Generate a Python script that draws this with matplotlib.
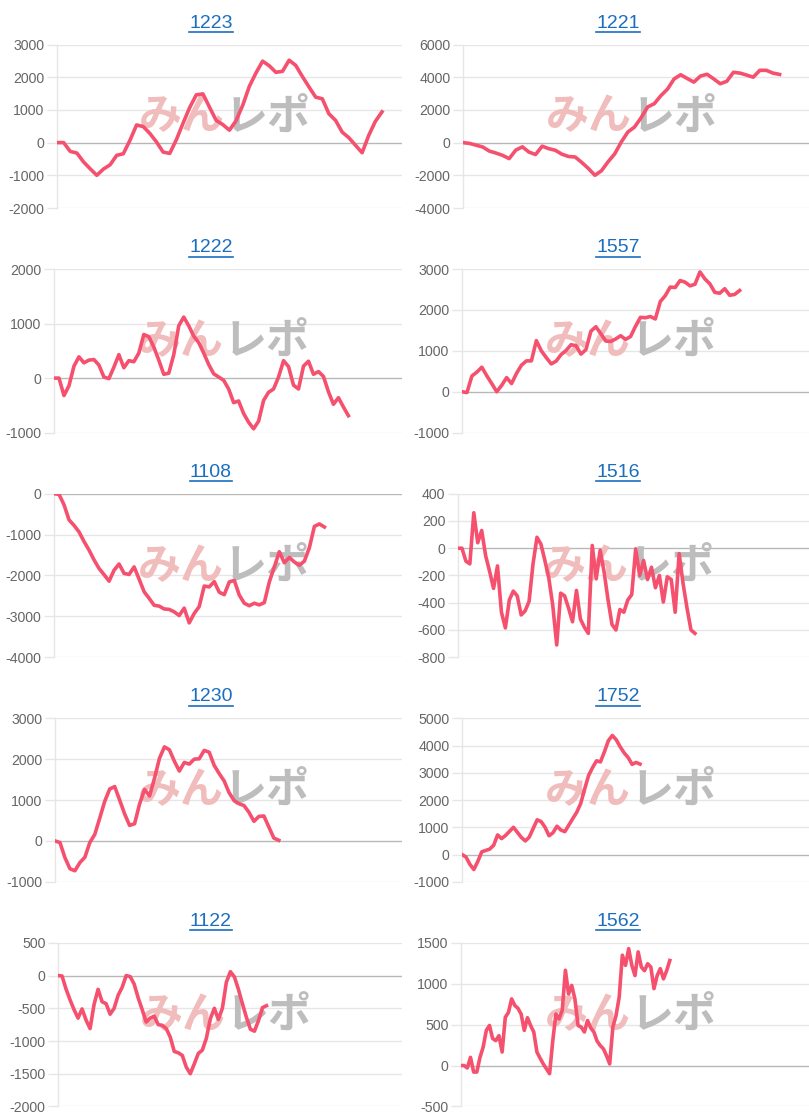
import matplotlib
matplotlib.use("Agg")
import matplotlib.pyplot as plt
from matplotlib.lines import Line2D

# ---- data ----
titles = ["1223", "1221", "1222", "1557", "1108", "1516", "1230", "1752", "1122", "1562"]

s1223 = [0, 0, -270, -320, -590, -800, -1000, -810, -680, -390, -340, 70, 540, 490, 280, 20,
         -290, -330, 90, 590, 1070, 1460, 1490, 1080, 680, 550, 380, 670, 1140, 1720, 2130,
         2490, 2350, 2150, 2180, 2520, 2360, 2020, 1700, 1390, 1340, 880, 680, 320, 150, -80,
         -310, 220, 650, 940]
s1221 = [0, -50, -160, -270, -520, -640, -780, -980, -460, -260, -580, -730, -220, -370, -470,
         -710, -850, -880, -1210, -1580, -2000, -1720, -1170, -690, 40, 650, 950, 1520, 2180,
         2380, 2870, 3270, 3890, 4150, 3920, 3700, 4070, 4180, 3900, 3600, 3750, 4300, 4250,
         4130, 4000, 4420, 4420, 4250, 4170]
s1222 = [0, 0, -320, -140, 220, 390, 280, 330, 340, 240, 20, -10, 200, 430, 190, 320, 300, 460,
         800, 760, 570, 330, 70, 90, 430, 960, 1120, 960, 770, 650, 460, 250, 80, 20, -40, -200,
         -450, -420, -650, -810, -930, -790, -410, -260, -200, 20, 320, 210, -130, -200, 220,
         310, 70, 120, 30, -250, -480, -360, -530, -690]
s1557 = [0, -20, 385, 480, 600, 390, 200, 0, 155, 345, 200, 450, 650, 755, 755, 1250, 1000, 835,
         680, 750, 910, 1010, 1150, 1125, 920, 1030, 1480, 1590, 1420, 1240, 1230, 1290, 1370,
         1280, 1350, 1600, 1820, 1810, 1840, 1780, 2205, 2350, 2560, 2550, 2720, 2680, 2590,
         2630, 2930, 2760, 2640, 2430, 2410, 2520, 2360, 2380, 2475]
s1108 = [0, -15, -270, -640, -775, -935, -1170, -1380, -1620, -1830, -1980, -2140, -1870, -1720,
         -1950, -1975, -1790, -2090, -2400, -2560, -2730, -2750, -2820, -2830, -2890, -2980,
         -2800, -3160, -2930, -2760, -2260, -2280, -2150, -2410, -2470, -2160, -2120, -2480,
         -2680, -2740, -2680, -2720, -2665, -2160, -1790, -1420, -1690, -1560, -1670, -1750,
         -1650, -1320, -800, -740, -815]
s1516 = [0, 0, -95, -115, 260, 40, 130, -55, -170, -295, -130, -470, -585, -380, -315, -350,
         -490, -460, -390, -115, 80, 30, -90, -220, -420, -710, -330, -350, -440, -540, -310,
         -520, -580, -625, 20, -225, -15, -175, -380, -560, -600, -450, -470, -380, -340, -5,
         -200, -90, -230, -140, -290, -200, -395, -210, -230, -470, -40, -260, -440, -600, -625]
s1230 = [0, -40, -410, -680, -730, -530, -400, -40, 160, 560, 970, 1270, 1330, 1000, 660, 380,
         420, 900, 1260, 1100, 1530, 2020, 2300, 2230, 1950, 1710, 1920, 1880, 2000, 2010, 2215,
         2170, 1850, 1650, 1470, 1180, 990, 910, 865, 700, 480, 600, 610, 340, 70, 15]
s1752 = [0, -90, -360, -550, -250, 100, 150, 200, 340, 720, 585, 700, 850, 1000, 815, 630, 500,
         640, 960, 1275, 1210, 1000, 690, 800, 1040, 900, 840, 1080, 1320, 1550, 1870, 2400,
         2900, 3190, 3440, 3400, 3770, 4180, 4370, 4210, 3950, 3730, 3560, 3310, 3380, 3320]
s1122 = [0, -5, -205, -370, -520, -650, -510, -680, -810, -440, -210, -400, -430, -590, -500,
         -300, -180, 0, -15, -130, -340, -520, -710, -650, -620, -750, -760, -810, -940, -1160,
         -1180, -1220, -1400, -1500, -1350, -1190, -1140, -960, -660, -500, -670, -500, -100,
         60, -20, -210, -430, -640, -820, -850, -690, -490, -460]
s1562 = [0, 0, -30, 100, -80, -80, 100, 225, 430, 490, 330, 305, 365, 165, 590, 650, 815, 735,
         700, 630, 430, 585, 490, 410, 165, 90, 20, -40, -100, 300, 630, 570, 675, 1165, 875,
         980, 815, 490, 470, 410, 550, 460, 410, 300, 245, 205, 120, 20, 470, 610, 835, 1350,
         1225, 1430, 1225, 1100, 1390, 1205, 1160, 1245, 1205, 940, 1100, 1185, 1060, 1160, 1285]

series = [s1223, s1221, s1222, s1557, s1108, s1516, s1230, s1752, s1122, s1562]

# y axis ranges (min, max, step)
y_ticks = [(-2000, 3000, 1000), (-4000, 6000, 2000), (-1000, 2000, 1000), (-1000, 3000, 1000),
           (-4000, 0, 1000), (-800, 400, 200), (-1000, 3000, 1000), (-1000, 5000, 1000),
           (-2000, 500, 500), (-500, 1500, 500)]

# ---- layout (pixels) ----
W, H = 809, 1120
left_px = [57, 463, 54, 462, 54, 458, 55, 462, 58, 461]
end_frac = [0.942, 0.915, 0.846, 0.80, 0.777, 0.675, 0.645, 0.513, 0.606, 0.60]
title_x = [211, 618]

LINE = "#f5506e"
GRID = "#e6e6e6"
TICK = "#666666"

fig = plt.figure(figsize=(W / 100, H / 100), dpi=100)
fig.patch.set_facecolor("white")

title_texts = []
for i, (name, data, yt) in enumerate(zip(titles, series, y_ticks)):
    row, col = i // 2, i % 2
    top = 44.5 + 224.6 * row
    height = 163.5
    right = 402 if col == 0 else 809
    lx = left_px[i]
    ax = fig.add_axes([lx / W, 1 - (top + height) / H, (right - lx) / W, height / H])

    n = len(data)
    ax.plot(range(n), data, color=LINE, lw=2.6, solid_joinstyle="round", zorder=3)
    ax.set_xlim(0, (n - 1) / end_frac[i])
    lo, hi, st = yt
    ax.set_ylim(lo, hi)
    ticks = list(range(lo, hi + 1, st))
    ax.set_yticks(ticks)
    ax.set_yticklabels([str(t) for t in ticks], fontsize=10.2, color=TICK,
                       family="Liberation Sans")
    ax.set_xticks([])
    for t in ticks:
        ax.axhline(t, color="#b8b8b8" if t == 0 else GRID, lw=1, zorder=1)
    ax.tick_params(axis="y", length=7, color=GRID, pad=2.0, width=1)
    for s in ["top", "right", "bottom"]:
        ax.spines[s].set_visible(False)
    ax.spines["left"].set_color(GRID)
    ax.spines["left"].set_linewidth(1)

    # watermark
    ax.text(0.487, 0.56, "みん", transform=ax.transAxes, ha="right", va="center",
            fontsize=31, fontweight="bold", color="#f0bcbc", family="Noto Sans CJK JP",
            zorder=2)
    ax.text(0.487, 0.56, "レポ", transform=ax.transAxes, ha="left", va="center",
            fontsize=31, fontweight="bold", color="#bdbdbd", family="Noto Sans CJK JP",
            zorder=2)

    ty = 23 + 224.6 * row
    tt = fig.text(title_x[col] / W, 1 - ty / H, name, ha="center", va="center",
                  fontsize=14, color="#1a6ec0", family="Liberation Sans")
    title_texts.append(tt)

# underline the titles like links
fig.canvas.draw()
r = fig.canvas.get_renderer()
for tt in title_texts:
    bb = tt.get_window_extent(renderer=r)
    yline = bb.y0 - 0.5
    fig.add_artist(Line2D([bb.x0 / W, bb.x1 / W], [yline / H, yline / H],
                          color="#1a6ec0", lw=1.2, transform=fig.transFigure))

fig.savefig("out.png", dpi=100, facecolor="white")
